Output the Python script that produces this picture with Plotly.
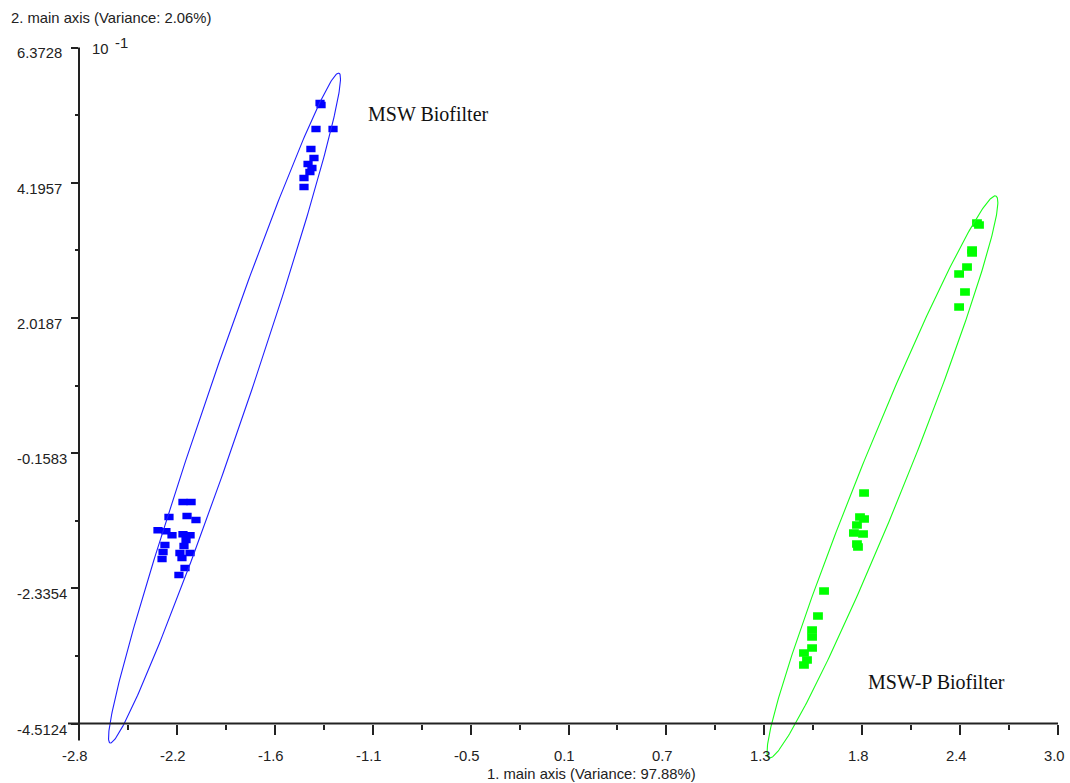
import numpy as np
import plotly.graph_objects as go

# PCA scores: 1st main axis (x) and 2nd main axis (y, in units of 10^-1)
msw_pc1 = [-1.372, -1.366, -1.396, -1.295, -1.426, -1.408, -1.420, -1.443, -1.432, -1.467, -1.467,
           -2.184, -2.136, -2.267, -2.160, -2.107, -2.332, -2.285, -2.249, -2.184, -2.142,
           -2.166, -2.178, -2.291, -2.302, -2.308, -2.202, -2.142, -2.190, -2.172, -2.208]
msw_pc2 = [5.479, 5.447, 5.061, 5.061, 4.739, 4.594, 4.433, 4.497, 4.368, 4.272, 4.127,
           -0.946, -0.946, -1.187, -1.171, -1.235, -1.399, -1.416, -1.480, -1.464, -1.480,
           -1.557, -1.654, -1.638, -1.751, -1.863, -1.767, -1.767, -1.847, -2.008, -2.121]

mswp_pc1 = [2.520, 2.532, 2.491, 2.491, 2.461, 2.414, 2.449, 2.414,
            1.851, 1.827, 1.851, 1.809, 1.791, 1.845, 1.815, 1.809,
            1.614, 1.578, 1.543, 1.543, 1.543, 1.495, 1.513, 1.495]
mswp_pc2 = [3.547, 3.515, 3.112, 3.064, 2.838, 2.726, 2.436, 2.194,
            -0.801, -1.187, -1.219, -1.316, -1.445, -1.461, -1.670, -1.622,
            -2.379, -2.781, -3.007, -3.119, -3.297, -3.377, -3.490, -3.570]

# Confidence ellipses: centre, semi-major and semi-minor axis vectors
msw_ell_center = (-1.938, 0.568)
msw_ell_major = (0.678, 5.394)
msw_ell_minor = (0.112, -0.105)
mswp_ell_center = (1.960, -0.543)
mswp_ell_major = (0.672, 4.525)
mswp_ell_minor = (0.126, -0.139)

group_names = ["MSW Biofilter", "MSW-P Biofilter"]

# Axes
x_range = (-2.8, 3.0)
x_ticks = list(np.linspace(x_range[0], x_range[1], 11))
x_tick_text = [f"{v:.1f}" for v in x_ticks]
y_ticks = [-4.5124, -2.3354, -0.1583, 2.0187, 4.1957, 6.3728]
y_tick_text = [f"{v:.4f}" for v in y_ticks]
y_range = (y_ticks[0], y_ticks[-1])
x_title = "1. main axis (Variance: 97.88%)"
y_title = "2. main axis (Variance: 2.06%)"

# ---- page geometry (pixels) ----
W, H = 1070, 783
AX_L, AX_R, AX_T, AX_B = 79, 1058, 47.5, 723.5


def fx(px):
    return px / W


def fy(py):
    return 1 - py / H


kx = (x_range[1] - x_range[0]) / (AX_R - AX_L)
ky = (y_range[1] - y_range[0]) / (AX_B - AX_T)
x2_range = [x_range[0] - AX_L * kx, x_range[1] + (W - AX_R) * kx]
y2_range = [y_range[0] - (H - AX_B) * ky, y_range[1] + AX_T * ky]

AXIS_FONT = dict(family="Liberation Sans, Arial, sans-serif", size=14.8, color="#222222")
LABEL_FONT = dict(family="Liberation Serif, Times New Roman, serif", size=20, color="#111111")
INK = "#222222"


def ellipse(center, major, minor, n=400):
    t = np.linspace(0, 2 * np.pi, n)
    xs = center[0] + major[0] * np.cos(t) + minor[0] * np.sin(t)
    ys = center[1] + major[1] * np.cos(t) + minor[1] * np.sin(t)
    return xs, ys


fig = go.Figure()

# small filled rectangles: a thick horizontal line marker
fig.add_trace(go.Scatter(
    x=msw_pc1, y=msw_pc2, mode="markers", name=group_names[0],
    marker=dict(symbol="line-ew", size=6.6, color="#0000ff",
                line=dict(color="#0000ff", width=6.5)),
    xaxis="x", yaxis="y"))
fig.add_trace(go.Scatter(
    x=mswp_pc1, y=mswp_pc2, mode="markers", name=group_names[1],
    marker=dict(symbol="line-ew", size=7, color="#00ff00",
                line=dict(color="#00ff00", width=7.5)),
    xaxis="x", yaxis="y"))

ex, ey = ellipse(msw_ell_center, msw_ell_major, msw_ell_minor)
fig.add_trace(go.Scatter(x=ex, y=ey, mode="lines", line=dict(color="#1f1fff", width=1.1),
                         xaxis="x2", yaxis="y2", hoverinfo="skip"))
ex, ey = ellipse(mswp_ell_center, mswp_ell_major, mswp_ell_minor)
fig.add_trace(go.Scatter(x=ex, y=ey, mode="lines", line=dict(color="#19ff19", width=1.1),
                         xaxis="x2", yaxis="y2", hoverinfo="skip"))

x_minor = [(a + b) / 2 for a, b in zip(x_ticks[:-1], x_ticks[1:])]
y_minor = [(a + b) / 2 for a, b in zip(y_ticks[:-1], y_ticks[1:])]

fig.update_layout(
    width=W, height=H, autosize=False,
    margin=dict(l=0, r=0, t=0, b=0),
    paper_bgcolor="white", plot_bgcolor="rgba(0,0,0,0)",
    showlegend=False,
    xaxis=dict(domain=[fx(AX_L), fx(AX_R)], range=list(x_range), anchor="y",
               tickmode="array", tickvals=x_ticks, showticklabels=False,
               ticks="outside", ticklen=10, tickwidth=1.5, tickcolor=INK,
               minor=dict(tickmode="array", tickvals=x_minor, ticks="outside",
                          ticklen=5, tickwidth=1.5, tickcolor=INK),
               showline=False, showgrid=False, zeroline=False),
    yaxis=dict(domain=[fy(AX_B), fy(AX_T)], range=list(y_range), anchor="x",
               tickmode="array", tickvals=y_ticks, showticklabels=False,
               ticks="outside", ticklen=7, tickwidth=1.5, tickcolor=INK,
               minor=dict(tickmode="array", tickvals=y_minor, ticks="outside",
                          ticklen=3, tickwidth=1.5, tickcolor=INK),
               showline=False, showgrid=False, zeroline=False),
    xaxis2=dict(domain=[0, 1], range=x2_range, anchor="y2", visible=False),
    yaxis2=dict(domain=[0, 1], range=y2_range, anchor="x2", visible=False),
)

# axis lines, crossing with a short overhang
fig.add_shape(type="line", xref="paper", yref="paper",
              x0=fx(AX_L - 11), x1=fx(AX_R), y0=fy(AX_B), y1=fy(AX_B),
              line=dict(color=INK, width=2))
fig.add_shape(type="line", xref="paper", yref="paper",
              x0=fx(AX_L), x1=fx(AX_L), y0=fy(AX_T), y1=fy(AX_B + 17),
              line=dict(color=INK, width=2))

annotations = []
for v, txt in zip(x_ticks, x_tick_text):
    annotations.append(dict(x=v, xref="x", y=fy(756), yref="paper", text=txt,
                            showarrow=False, xanchor="center", yanchor="middle",
                            xshift=-4, font=AXIS_FONT))
for v, txt in zip(y_ticks, y_tick_text):
    annotations.append(dict(x=fx(15), xref="paper", y=v, yref="y", text=txt,
                            showarrow=False, xanchor="left", yanchor="middle",
                            yshift=-6, font=AXIS_FONT))
annotations += [
    dict(x=fx(90), xref="paper", y=fy(49), yref="paper", text="10",
         showarrow=False, xanchor="left", yanchor="middle", font=AXIS_FONT),
    dict(x=fx(113), xref="paper", y=fy(43), yref="paper", text="-1",
         showarrow=False, xanchor="left", yanchor="middle", font=AXIS_FONT),
    dict(x=fx(9), xref="paper", y=fy(18), yref="paper", text=y_title,
         showarrow=False, xanchor="left", yanchor="middle", font=AXIS_FONT),
    dict(x=fx(591), xref="paper", y=fy(774), yref="paper", text=x_title,
         showarrow=False, xanchor="center", yanchor="middle", font=AXIS_FONT),
    dict(x=-1.100, xref="x", y=5.30, yref="y", text=group_names[0],
         showarrow=False, xanchor="left", yanchor="middle", font=LABEL_FONT),
    dict(x=1.862, xref="x", y=-3.844, yref="y", text=group_names[1],
         showarrow=False, xanchor="left", yanchor="middle", font=LABEL_FONT),
]
fig.update_layout(annotations=annotations)

fig.write_html("out.html")
